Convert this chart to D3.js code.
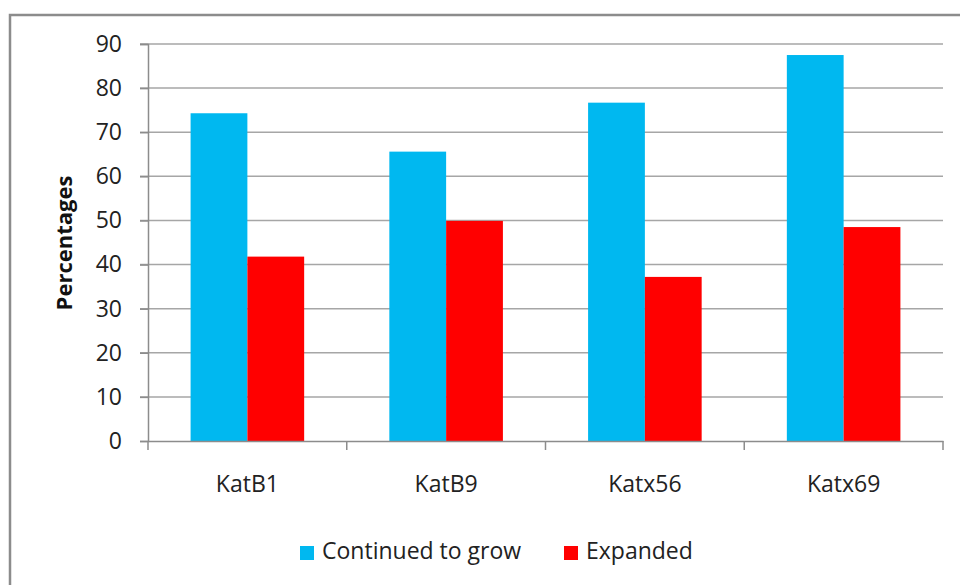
<!DOCTYPE html>
<html><head><meta charset="utf-8">
<script src="https://cdn.jsdelivr.net/npm/d3@7"></script>
<style>body{margin:0;background:#fff;} text{font-family:"Open Sans",sans-serif;}</style>
</head><body>
<svg id="c" width="960" height="585"></svg>
<script>
const categories = ["KatB1","KatB9","Katx56","Katx69"];
const seriesNames = ["Continued to grow","Expanded"];
const continuedToGrow = [74.3, 65.6, 76.7, 87.5];
const expanded = [41.8, 49.9, 37.2, 48.5];
const yTicks = [0,10,20,30,40,50,60,70,80,90];
const colors = ["#00B8F0","#FF0000"];

(function(){
const svg = d3.select("#c");
svg.append("rect").attr("x",10).attr("y",15).attr("width",960).attr("height",600)
  .attr("fill","#fff").attr("stroke","#8c8c8c").attr("stroke-width",2.5);

const pLeft=148, pRight=943, pTop=44, pBottom=441;
const fs = 23;
const x = d3.scaleBand().domain(categories).range([pLeft,pRight]).paddingInner(0).paddingOuter(0);
const y = d3.scaleLinear().domain([0,90]).range([pBottom,pTop]);

// gridlines
svg.append("g").selectAll("line").data(yTicks.filter(d=>d>0)).join("line")
  .attr("x1",pLeft-8).attr("x2",pRight).attr("y1",d=>y(d)).attr("y2",d=>y(d))
  .attr("stroke","#a6a6a6").attr("stroke-width",1.5);

// y axis
const yAxis = d3.axisLeft(y).tickValues(yTicks).tickSize(8).tickPadding(18);
const gy = svg.append("g").attr("transform",`translate(${pLeft},0)`).call(yAxis);
gy.select(".domain").attr("stroke","#8c8c8c").attr("stroke-width",1.5);
gy.selectAll(".tick line").attr("stroke","#8c8c8c").attr("stroke-width",1.5);
gy.selectAll(".tick text").attr("font-size",fs).attr("fill","#222").attr("font-family","Open Sans");

// bars
const bw = x.bandwidth()/3.5;
const data = categories.map((c,i)=>({c, vals:[continuedToGrow[i], expanded[i]]}));
const g = svg.append("g");
data.forEach(d=>{
  d.vals.forEach((v,j)=>{
    const x0 = x(d.c) + x.bandwidth()/2 - bw + j*bw;
    g.append("rect").attr("x",x0).attr("y",y(v)).attr("width",bw).attr("height",y(0)-y(v))
      .attr("fill",colors[j]);
  });
});

// x axis
const xAxis = d3.axisBottom(x).tickSize(0).tickPadding(35);
const gx = svg.append("g").attr("transform",`translate(0,${pBottom})`).call(xAxis);
gx.select(".domain").attr("stroke","#8c8c8c").attr("stroke-width",1.5);
gx.selectAll(".tick text").attr("font-size",fs).attr("fill","#222").attr("font-family","Open Sans");
// category boundary ticks
svg.append("g").selectAll("line").data(categories.concat(["end"])).join("line")
  .attr("x1",(d,i)=> i<categories.length ? x(d) : pRight)
  .attr("x2",(d,i)=> i<categories.length ? x(d) : pRight)
  .attr("y1",pBottom).attr("y2",pBottom+9).attr("stroke","#8c8c8c").attr("stroke-width",1.5);

// y title
svg.append("text").attr("transform","translate(72,243) rotate(-90)")
  .attr("text-anchor","middle").attr("font-size",22).attr("font-weight","bold")
  .attr("fill","#111").text("Percentages");

// legend
const legX = [300, 564];
seriesNames.forEach((n,i)=>{
  svg.append("rect").attr("x",legX[i]).attr("y",546).attr("width",14).attr("height",14).attr("fill",colors[i]);
  svg.append("text").attr("x",legX[i]+22).attr("y",559)
    .attr("font-size",fs).attr("fill","#222").text(n);
});
})();
</script>
</body></html>
